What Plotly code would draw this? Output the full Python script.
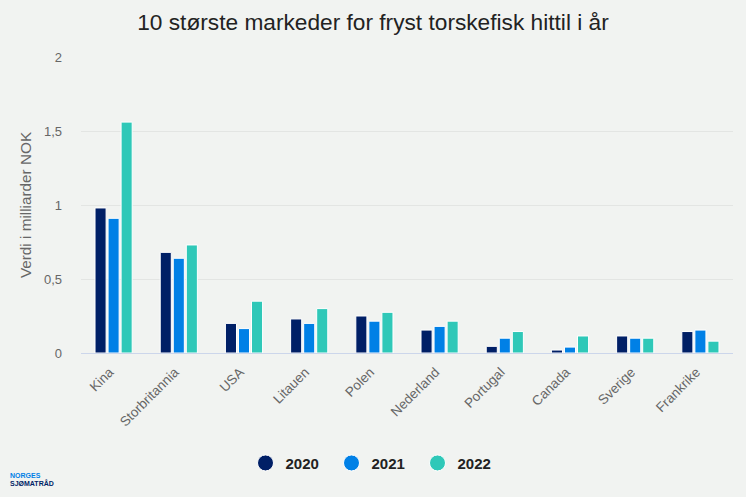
import plotly.graph_objects as go

categories = ["Kina", "Storbritannia", "USA", "Litauen", "Polen", "Nederland", "Portugal", "Canada", "Sverige", "Frankrike"]
years = ["2020", "2021", "2022"]
v2020 = [0.98, 0.68, 0.20, 0.23, 0.25, 0.155, 0.045, 0.02, 0.115, 0.145]
v2021 = [0.91, 0.64, 0.165, 0.20, 0.215, 0.18, 0.10, 0.04, 0.10, 0.155]
v2022 = [1.56, 0.73, 0.35, 0.30, 0.275, 0.215, 0.145, 0.115, 0.10, 0.08]
colors = ["#001f66", "#0080e6", "#2fc8b8"]
tickvals = [0, 0.5, 1, 1.5, 2]
ticktext = ["0", "0,5", "1", "1,5", "2"]

W, H, L, R, T, B = 746, 497, 81, 13, 57, 144
w, h = W - L - R, H - T - B

fig = go.Figure()
for y, vals, c in zip(years, [v2020, v2021, v2022], colors):
    fig.add_bar(x=categories, y=vals, name=y, showlegend=False,
                marker=dict(color=c, line=dict(color="white", width=1)))
for y, c in zip(years, colors):
    fig.add_scatter(x=[None], y=[None], mode="markers", name=y,
                    marker=dict(color=c, size=16, symbol="circle", line=dict(color="white", width=1)))

logo = [("<b>NORGES</b>", 475.5, "#0080e6"), ("<b>SJØMATRÅD</b>", 482.5, "#001f66")]

fig.update_layout(
    width=W, height=H, autosize=False,
    paper_bgcolor="#f1f3f1", plot_bgcolor="#f1f3f1",
    font=dict(family="Liberation Sans, Arial, sans-serif", color="#666666"),
    margin=dict(l=L, r=R, t=T, b=B),
    barmode="group", bargap=0.4, bargroupgap=0.15,
    title=dict(text="10 største markeder for fryst torskefisk hittil i år",
               x=0.5, xanchor="center", y=0.955, yanchor="middle",
               font=dict(size=22.7, color="#222222")),
    xaxis=dict(tickangle=-45, tickfont=dict(size=13.5, color="#666666"), ticks="",
               linecolor="#ccd6eb", linewidth=1, showline=True, ticklabelstandoff=5, ticklabelshift=-4),
    yaxis=dict(range=[0, 2], tickvals=tickvals, ticktext=ticktext,
               tickfont=dict(size=13, color="#666666"), gridcolor="#e3e5e3", gridwidth=1,
               zeroline=False, ticklabelstandoff=18,
               title=dict(text="Verdi i milliarder NOK", font=dict(size=15.3, color="#666666"), standoff=8)),
    legend=dict(orientation="h", x=245.5 / W, xanchor="left", y=0.068, yanchor="middle",
                xref="container", yref="container", font=dict(size=15, color="#222222", weight="bold"),
                itemwidth=30, entrywidth=41, entrywidthmode="pixels", bgcolor="rgba(0,0,0,0)"),
    annotations=[
        dict(text=t, x=(8 - L) / w, y=(H - B - py) / h, xref="paper", yref="paper", showarrow=False,
             font=dict(size=7, color=c), xanchor="left", yanchor="middle")
        for t, py, c in logo
    ],
)
fig.write_html("out.html", config=dict(displayModeBar=False),
               post_script="document.body.style.margin='0';document.documentElement.style.background='#f1f3f1';document.body.style.overflow='hidden';")
